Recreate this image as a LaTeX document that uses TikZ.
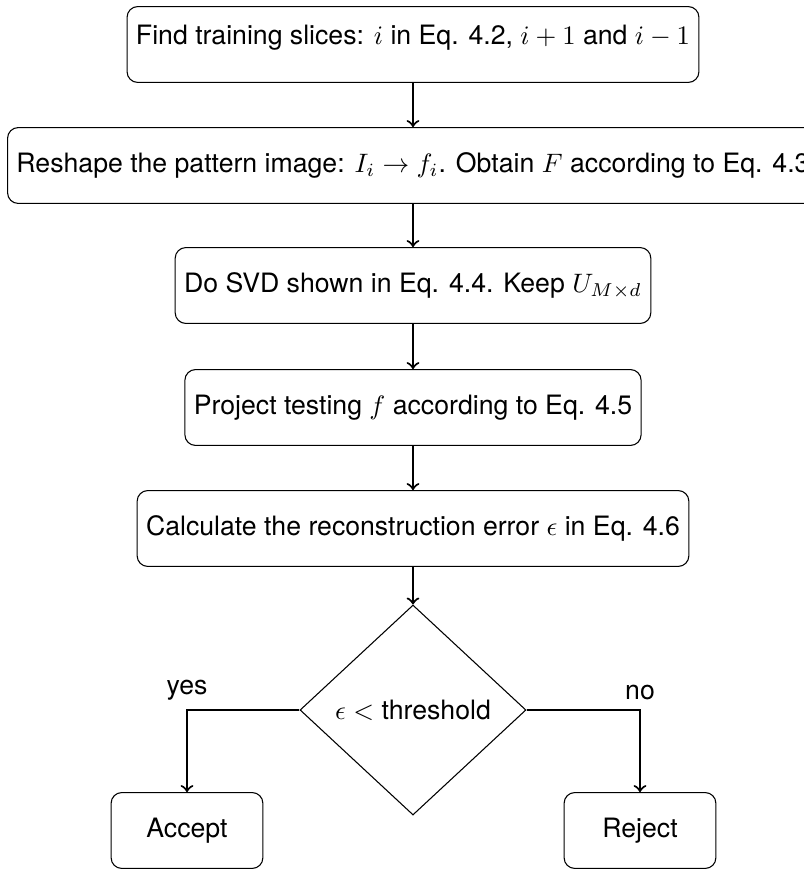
\documentclass[tikz,border=0pt]{standalone}
\usepackage[no-math]{fontspec}
\setmainfont{TeX Gyre Heros}
\usetikzlibrary{shapes.geometric}

\begin{document}
\begin{tikzpicture}
  [x=0.375pt,y=-0.375pt,
   block/.style={rectangle,draw,rounded corners,minimum width=2cm,minimum height=1cm},
   decision/.style={diamond,draw,minimum width=84.75pt,minimum height=78.75pt,inner sep=0pt},
   line/.style={draw,thick,->}]
  \useasboundingbox (0,0) rectangle (804,869);

  \node[block,text depth=7.5pt] (find) at (413,44.5) {Find training slices: $i$ in Eq. 4.2, $i+1$ and $i-1$};
  \node[block] (reshape) at (413,165.5) {Reshape the pattern image: $I_i \rightarrow f_i$. Obtain $F$ according to Eq. 4.3};
  \node[block] (svd) at (413,285.5) {Do SVD shown in Eq. 4.4. Keep $U_{M \times d}$};
  \node[block] (project) at (413,407.5) {Project testing $f$ according to Eq. 4.5};
  \node[block] (calc) at (413,528.5) {Calculate the reconstruction error $\epsilon$ in Eq. 4.6};
  \node[decision] (dec) at (413,710) {$\epsilon <$ threshold};
  \node[block] (accept) at (187,830.5) {Accept};
  \node[block] (reject) at (640,830.5) {Reject};

  \foreach \from/\to in {find/reshape,reshape/svd,svd/project,project/calc,calc/dec}
    \draw[line] (\from) -- (\to);
  \draw[line] (dec) -| node[pos=.5,above] {yes} (accept);
  \draw[line] (dec) -| node[pos=.5,above] {no} (reject);

\end{tikzpicture}
\end{document}
